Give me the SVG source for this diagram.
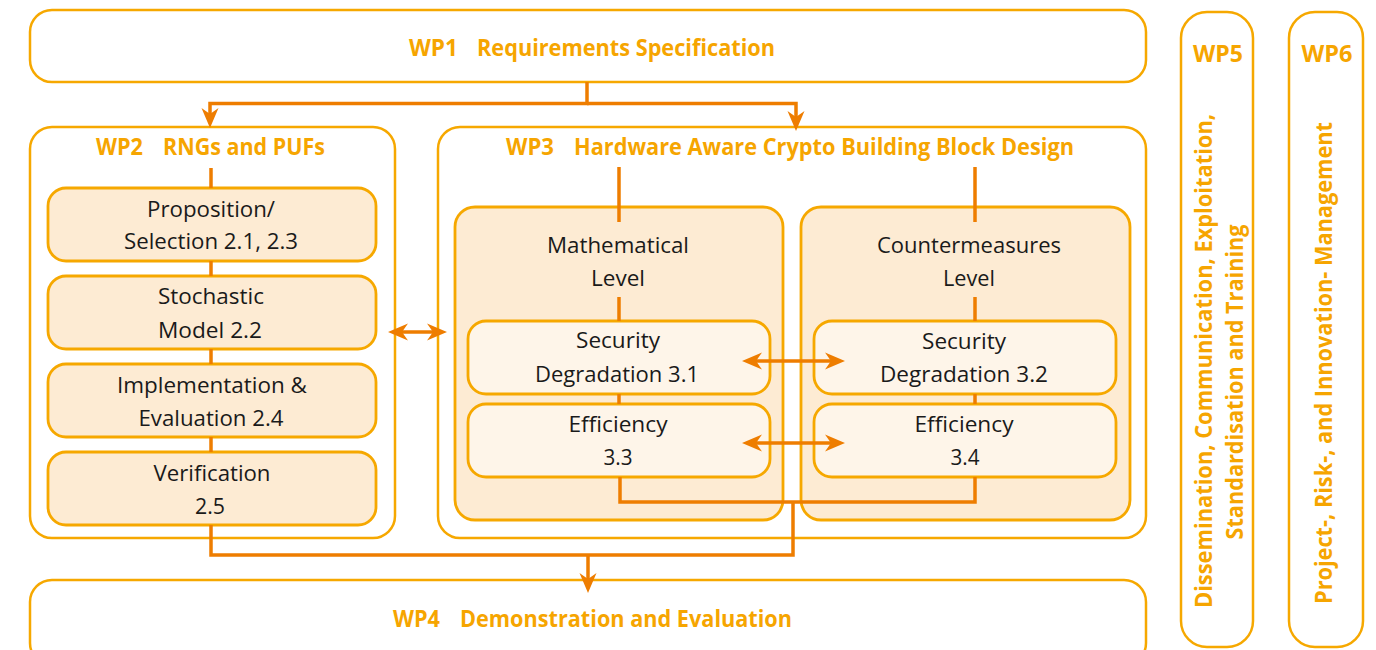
<svg xmlns="http://www.w3.org/2000/svg" width="1376" height="650" viewBox="0 0 1376 650">
<defs>
<style>
.outer{fill:#ffffff;stroke:#F6A800;stroke-width:2.5}
.level{fill:#FDEBD3;stroke:#F6A800;stroke-width:2.8}
.sub{fill:#FDEBD3;stroke:#F6A800;stroke-width:2.8}
.inner{fill:#FEF5E9;stroke:#F6A800;stroke-width:2.8}
.title{font-family:"Open Sans","Noto Sans","Liberation Sans",sans-serif;font-weight:700;font-size:23.5px;fill:#F6A500}
.lbl{font-family:"Open Sans","Noto Sans","Liberation Sans",sans-serif;font-weight:400;font-size:22.5px;fill:#1a1a1a;text-anchor:middle}
.con{fill:none;stroke:#EE7D00;stroke-width:3.5}
</style>
<marker id="ah" viewBox="-9 -9 22 18" refX="0" refY="0" markerWidth="22" markerHeight="18" markerUnits="userSpaceOnUse" orient="auto-start-reverse">
<path d="M12,0 L-8,-8.5 L-2,0 L-8,8.5 Z" fill="#EE7D00"/>
</marker>
</defs>

<g id="wp1">
<rect class="outer" x="30" y="10" width="1116" height="72" rx="22"/>
<text class="title" y="56"><tspan x="409" textLength="49" lengthAdjust="spacingAndGlyphs">WP1</tspan><tspan x="477" textLength="298" lengthAdjust="spacingAndGlyphs">Requirements Specification</tspan></text>
</g>

<g id="wp2">
<rect class="outer" x="30" y="127" width="365" height="411" rx="22"/>
<text class="title" y="155"><tspan x="96" textLength="47" lengthAdjust="spacingAndGlyphs">WP2</tspan><tspan x="163" textLength="162" lengthAdjust="spacingAndGlyphs">RNGs and PUFs</tspan></text>
</g>

<g id="wp3">
<rect class="outer" x="438" y="127" width="708" height="411" rx="22"/>
<text class="title" y="155"><tspan x="506" textLength="48" lengthAdjust="spacingAndGlyphs">WP3</tspan><tspan x="574" textLength="500" lengthAdjust="spacingAndGlyphs">Hardware Aware Crypto Building Block Design</tspan></text>
</g>

<g id="wp4">
<rect class="outer" x="30" y="580" width="1116" height="85" rx="22"/>
<text class="title" y="627"><tspan x="393" textLength="47" lengthAdjust="spacingAndGlyphs">WP4</tspan><tspan x="460" textLength="332" lengthAdjust="spacingAndGlyphs">Demonstration and Evaluation</tspan></text>
</g>

<g id="wp5">
<rect class="outer" x="1181" y="12" width="72" height="635" rx="26"/>
<text class="title" x="1218" y="62" text-anchor="middle" textLength="50" lengthAdjust="spacingAndGlyphs">WP5</text>
<text class="title" text-anchor="middle" transform="translate(1212,361) rotate(-90)" x="0" y="0" textLength="494" lengthAdjust="spacingAndGlyphs">Dissemination, Communication, Exploitation,</text>
<text class="title" text-anchor="middle" transform="translate(1243,382) rotate(-90)" x="0" y="0" textLength="315" lengthAdjust="spacingAndGlyphs">Standardisation and Training</text>
</g>

<g id="wp6">
<rect class="outer" x="1289" y="12" width="74" height="635" rx="26"/>
<text class="title" x="1327" y="62" text-anchor="middle" textLength="51" lengthAdjust="spacingAndGlyphs">WP6</text>
<text class="title" text-anchor="middle" transform="translate(1332,363) rotate(-90)" x="0" y="0" textLength="482" lengthAdjust="spacingAndGlyphs">Project-, Risk-, and Innovation- Management</text>
</g>

<g id="wp2-1">
<rect class="sub" x="48" y="188" width="328" height="73" rx="18"/>
<text class="lbl" x="211" y="217" textLength="128" lengthAdjust="spacingAndGlyphs">Proposition/</text>
<text class="lbl" x="211" y="249" textLength="174" lengthAdjust="spacingAndGlyphs">Selection 2.1, 2.3</text>
</g>
<g id="wp2-2">
<rect class="sub" x="48" y="276" width="328" height="73" rx="18"/>
<text class="lbl" x="211" y="304" textLength="106" lengthAdjust="spacingAndGlyphs">Stochastic</text>
<text class="lbl" x="210" y="338" textLength="104" lengthAdjust="spacingAndGlyphs">Model 2.2</text>
</g>
<g id="wp2-4">
<rect class="sub" x="48" y="364" width="328" height="73" rx="18"/>
<text class="lbl" x="212" y="393" textLength="190" lengthAdjust="spacingAndGlyphs">Implementation &amp;</text>
<text class="lbl" x="211" y="426" textLength="145" lengthAdjust="spacingAndGlyphs">Evaluation 2.4</text>
</g>
<g id="wp2-5">
<rect class="sub" x="48" y="452" width="328" height="73" rx="18"/>
<text class="lbl" x="212" y="481" textLength="117" lengthAdjust="spacingAndGlyphs">Verification</text>
<text class="lbl" x="210" y="514" textLength="30" lengthAdjust="spacingAndGlyphs">2.5</text>
</g>

<g id="math-level">
<rect class="level" x="455" y="207" width="328" height="313" rx="20"/>
<text class="lbl" x="618" y="253" textLength="142" lengthAdjust="spacingAndGlyphs">Mathematical</text>
<text class="lbl" x="618" y="286" textLength="54" lengthAdjust="spacingAndGlyphs">Level</text>
</g>
<g id="counter-level">
<rect class="level" x="801" y="207" width="329" height="313" rx="20"/>
<text class="lbl" x="969" y="253" textLength="184" lengthAdjust="spacingAndGlyphs">Countermeasures</text>
<text class="lbl" x="969" y="286" textLength="52" lengthAdjust="spacingAndGlyphs">Level</text>
</g>

<g id="wp3-1">
<rect class="inner" x="468" y="321" width="302" height="73" rx="18"/>
<text class="lbl" x="618" y="348" textLength="84" lengthAdjust="spacingAndGlyphs">Security</text>
<text class="lbl" x="617" y="382" textLength="164" lengthAdjust="spacingAndGlyphs">Degradation 3.1</text>
</g>
<g id="wp3-3">
<rect class="inner" x="468" y="404" width="302" height="73" rx="18"/>
<text class="lbl" x="618" y="432" textLength="99" lengthAdjust="spacingAndGlyphs">Efficiency</text>
<text class="lbl" x="618" y="465" textLength="29" lengthAdjust="spacingAndGlyphs">3.3</text>
</g>
<g id="wp3-2">
<rect class="inner" x="814" y="321" width="302" height="73" rx="18"/>
<text class="lbl" x="964" y="349" textLength="84" lengthAdjust="spacingAndGlyphs">Security</text>
<text class="lbl" x="964" y="382" textLength="168" lengthAdjust="spacingAndGlyphs">Degradation 3.2</text>
</g>
<g id="wp3-4">
<rect class="inner" x="814" y="404" width="302" height="73" rx="18"/>
<text class="lbl" x="964" y="432" textLength="99" lengthAdjust="spacingAndGlyphs">Efficiency</text>
<text class="lbl" x="965" y="465" textLength="29" lengthAdjust="spacingAndGlyphs">3.4</text>
</g>

<g id="connectors">
<path class="con" d="M587,82 V103.5 H210 V116" marker-end="url(#ah)"/>
<path class="con" d="M587,103.5 H796 V119" marker-end="url(#ah)"/>
<path class="con" d="M211,168 V188 M211,261 V276 M211,349 V364 M211,437 V452"/>
<path class="con" d="M619,167 V222 M619,297 V321 M619,394 V404"/>
<path class="con" d="M975,167 V222 M975,297 V321 M975,394 V404"/>
<path class="con" d="M211,525 V555 H793 V502"/>
<path class="con" d="M620,477 V502 H975 V477"/>
<path class="con" d="M588,555 V581" marker-end="url(#ah)"/>
<path class="con" d="M400,332 H435" marker-start="url(#ah)" marker-end="url(#ah)"/>
<path class="con" d="M754,361 H833" marker-start="url(#ah)" marker-end="url(#ah)"/>
<path class="con" d="M754,443 H833" marker-start="url(#ah)" marker-end="url(#ah)"/>
</g>
</svg>
